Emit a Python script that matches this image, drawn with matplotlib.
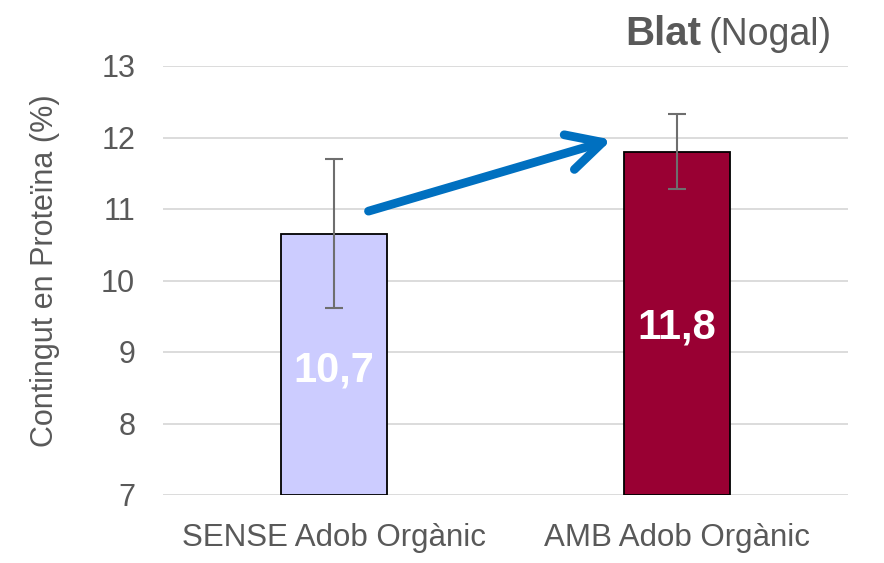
import matplotlib
matplotlib.use("Agg")
import matplotlib.pyplot as plt

categories = ["SENSE Adob Orgànic", "AMB Adob Orgànic"]
values = [10.65, 11.8]
err_low = [9.62, 11.28]
err_high = [11.70, 12.33]
bar_labels = ["10,7", "11,8"]
label_y = [8.74, 9.34]
bar_colors = ["#CCCCFF", "#990033"]
arrow_start = (0.10, 10.97)
arrow_end = (0.81, 11.97)

plt.rcParams['font.family'] = ['Liberation Sans', 'DejaVu Sans']
gray = "#595959"

fig = plt.figure(figsize=(8.84, 5.63), dpi=100)
ax = fig.add_axes([163/884, 1-495/563, (848-163)/884, (495-66)/563])

x = list(range(len(categories)))
yerr = [[v - lo for v, lo in zip(values, err_low)], [hi - v for v, hi in zip(values, err_high)]]
ax.bar(x, [v - 7 for v in values], bottom=7, width=0.31, color=bar_colors,
       edgecolor="black", linewidth=1.3, zorder=3)
ax.errorbar(x, values, yerr=yerr, fmt="none", ecolor="#6E6E6E", elinewidth=1.5,
            capsize=6.5, capthick=1.5, zorder=4)
for xi, yl, t in zip(x, label_y, bar_labels):
    ax.text(xi, yl, t, ha="center", va="center", color="white", fontsize=30,
            fontweight="bold", zorder=5)

ax.annotate("", xy=arrow_end, xytext=arrow_start,
            arrowprops=dict(arrowstyle="->,head_length=1.25,head_width=0.65",
                            mutation_scale=20, lw=6.3, color="#0070C0",
                            shrinkA=0, shrinkB=0, capstyle="round",
                            joinstyle="round"), zorder=6)

ax.set_xlim(-0.5, 1.5)
ax.set_ylim(7, 13)
ax.set_yticks(range(7, 14))
ax.set_xticks(x)
ax.set_xticklabels(categories)
ax.grid(axis="y", color="#D9D9D9", linewidth=1.3, zorder=0)
for s in ax.spines.values():
    s.set_visible(False)
ax.tick_params(axis="y", length=0, pad=20, labelsize=22, labelcolor=gray)
ax.tick_params(axis="x", length=0, pad=20, labelsize=22.5, labelcolor=gray)
ax.set_ylabel("Contingut en Proteïna (%)", fontsize=22, color=gray)
ax.yaxis.set_label_coords(-0.150, 0.522)

base_y = 1 - 45/563
t2 = fig.text(832/884, base_y, "(Nogal)", ha="right", va="baseline",
              fontsize=27, color=gray)
fig.canvas.draw()
bb = t2.get_window_extent(renderer=fig.canvas.get_renderer())
fig.text((bb.x0 - 8) / fig.bbox.width, base_y, "Blat", ha="right", va="baseline",
         fontsize=29, fontweight="bold", color=gray)

fig.savefig("out.png", dpi=100)
